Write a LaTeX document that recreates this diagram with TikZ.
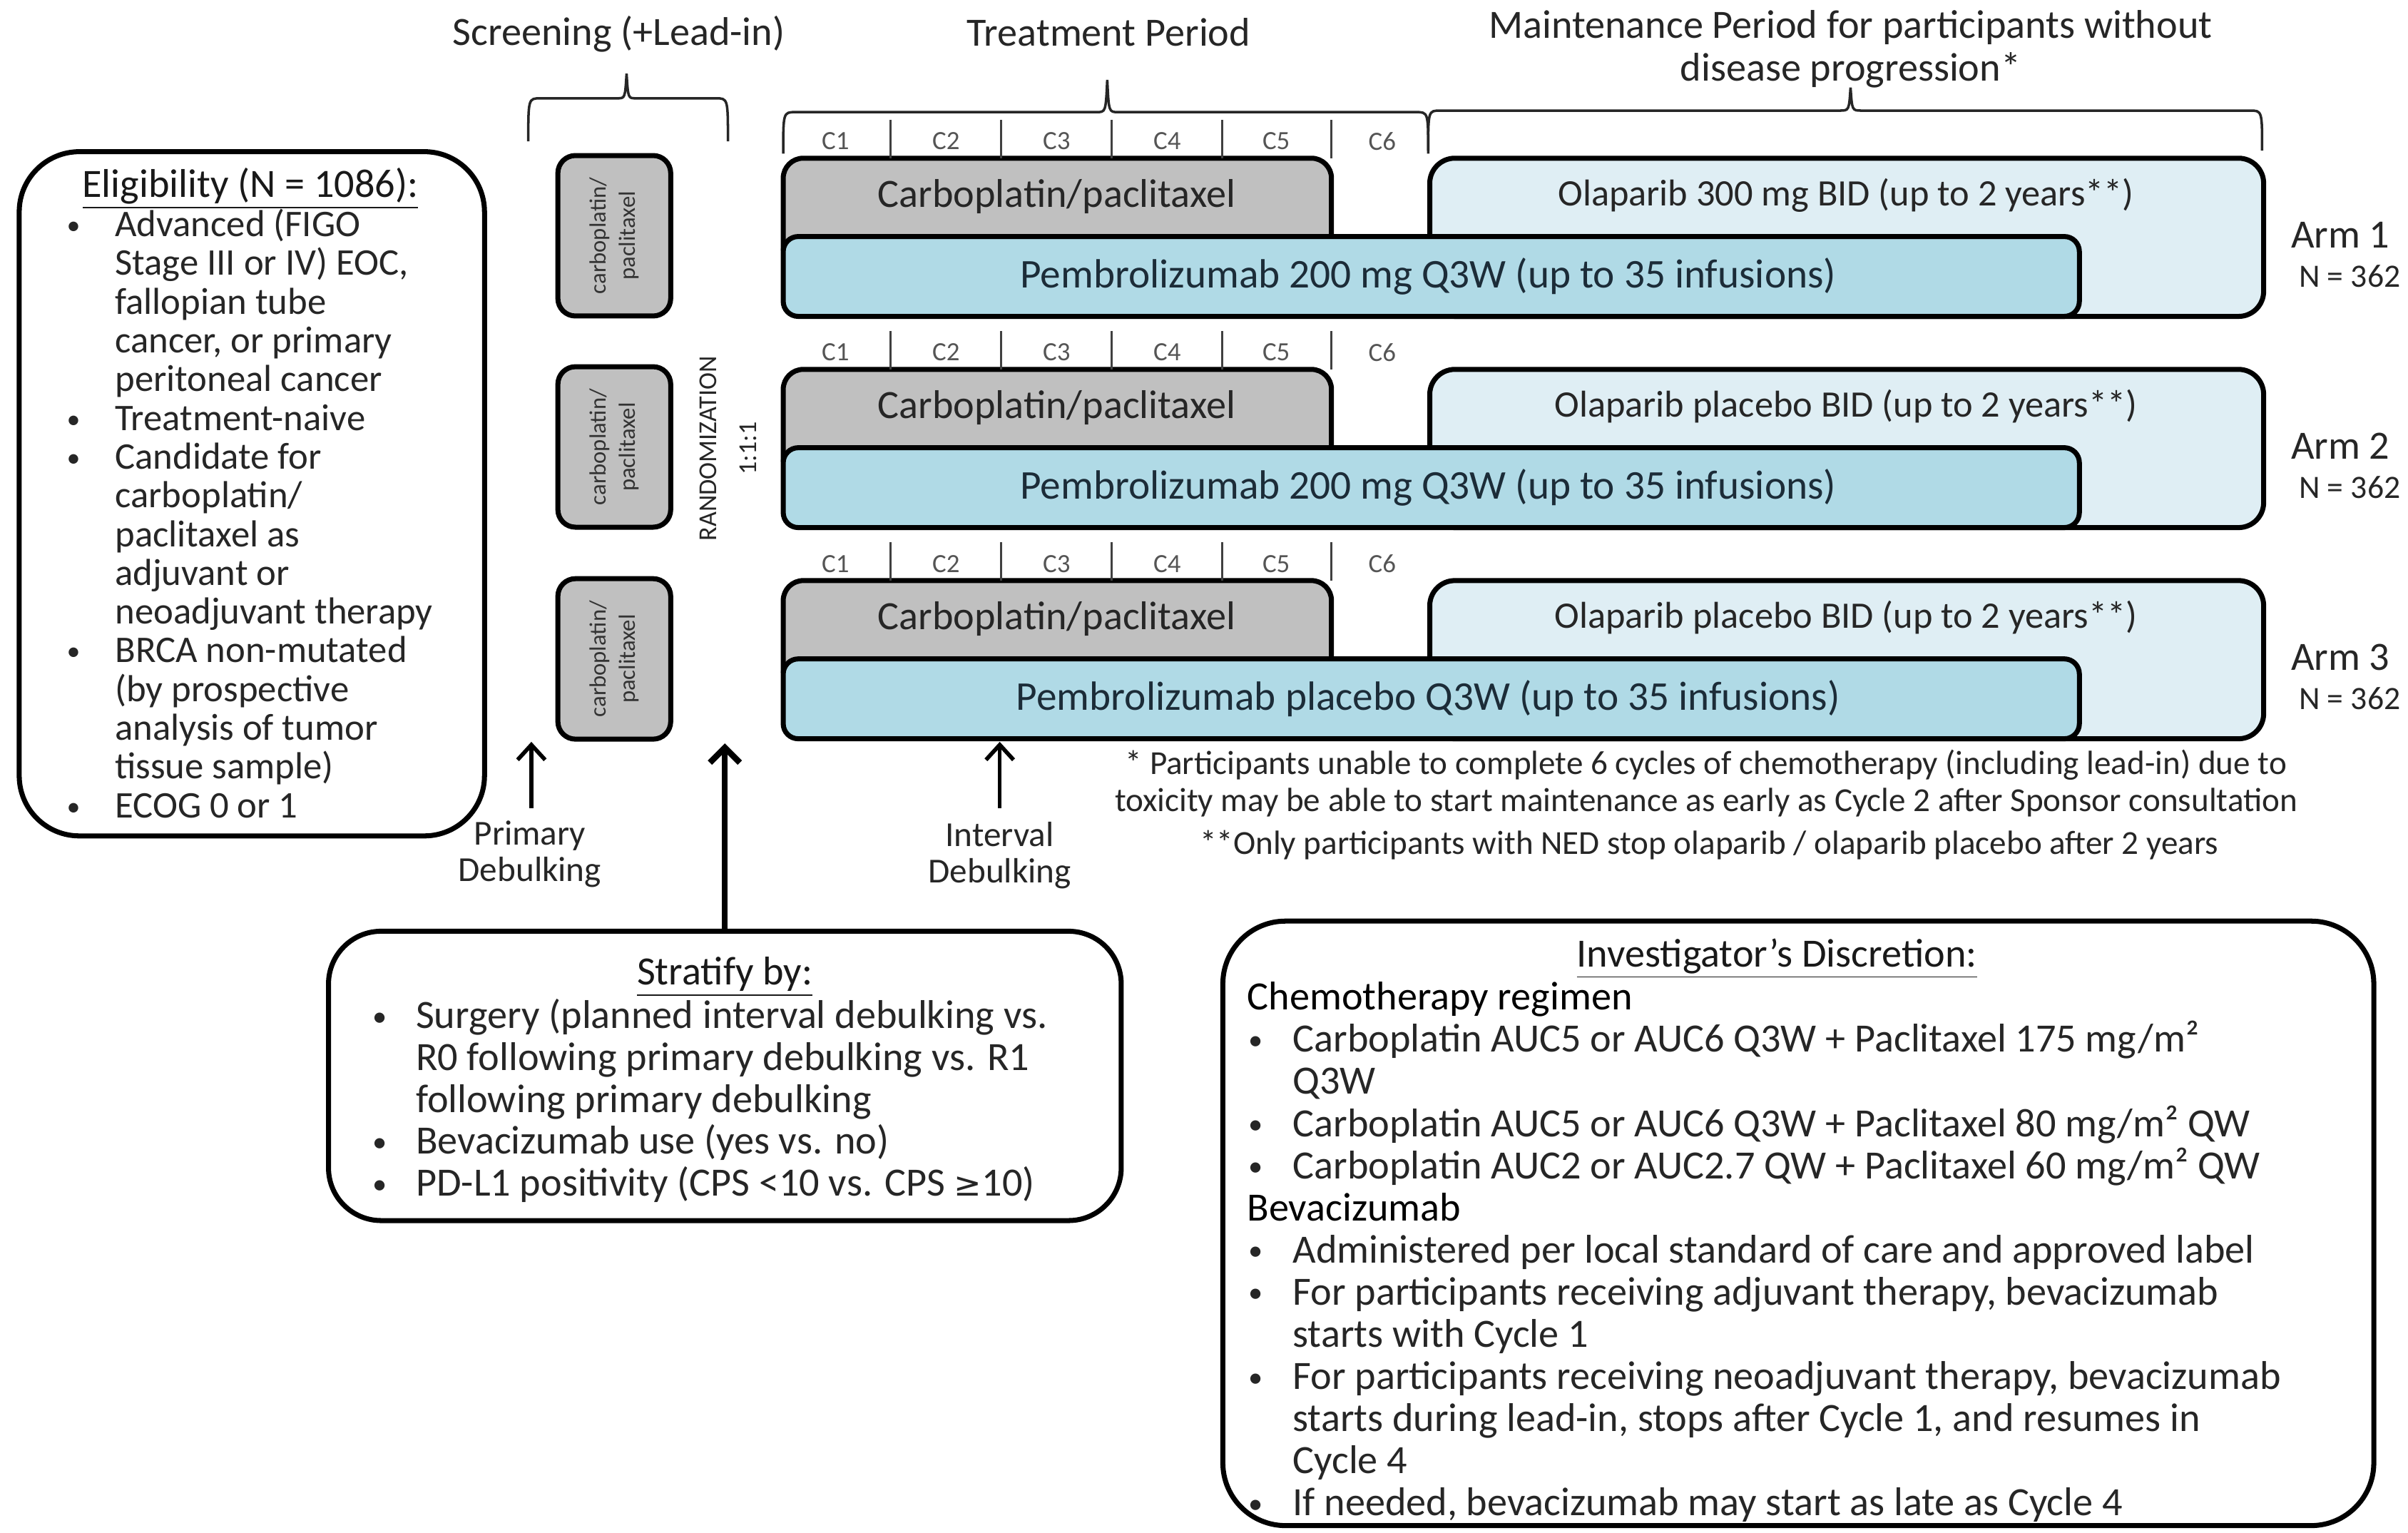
\documentclass[tikz,border=0pt]{standalone}
\usepackage{fontspec}
\setmainfont{Carlito}
\newfontfamily\symfnt{DejaVu Sans}[Scale=0.82]
\usetikzlibrary{arrows.meta}
\definecolor{chemogray}{RGB}{192,192,192}
\definecolor{pembroblue}{RGB}{176,218,230}
\definecolor{olapblue}{RGB}{223,238,244}
\definecolor{txt}{RGB}{38,38,38}
\definecolor{pembrotxt}{RGB}{28,44,56}
\definecolor{cyctxt}{RGB}{85,85,85}
\newcommand{\mybul}[1]{\makebox[#1][l]{\hspace{1.5pt}\raisebox{0.12ex}{\scalebox{0.72}{•}}}}
\newcommand{\myind}[1]{\hspace*{#1}}
\begin{document}
\begin{tikzpicture}[x=0.02153cm,y=-0.02153cm,
  every node/.style={inner sep=0pt, outer sep=0pt, text=txt},
  bigbox/.style={draw=black, line width=2pt, fill=white, rounded corners=24pt},
  leadbox/.style={draw=black, line width=2pt, fill=chemogray, rounded corners=7pt, rotate=90, minimum width=64pt, minimum height=45pt, align=center, font=\fontsize{9.3}{11.5}\selectfont, text=black!80},
  chemobar/.style={draw=black, line width=2pt, fill=chemogray, rounded corners=8pt},
  olapbar/.style={draw=black, line width=2pt, fill=olapblue, rounded corners=10pt},
  pembrobar/.style={draw=black, line width=2pt, fill=pembroblue, rounded corners=6pt},
  headtext/.style={font=\fontsize{16}{17.1}\selectfont, align=center, text=black!85},
  bartext/.style={font=\fontsize{16}{17}\selectfont},
  olaptext/.style={font=\fontsize{14.9}{16}\selectfont},
  pembrotext/.style={font=\fontsize{16.3}{17}\selectfont, text=pembrotxt},
  armtext/.style={font=\fontsize{16}{17}\selectfont},
  ntext/.style={font=\fontsize{13}{14}\selectfont},
  cyctext/.style={font=\fontsize{10.5}{12}\selectfont, text=cyctxt},
  titletext/.style={font=\fontsize{16}{17}\selectfont, anchor=base, text=black!90},
  eligtext/.style={font=\fontsize{15}{15.45}\selectfont, align=left, anchor=north west},
  strattext/.style={font=\fontsize{16}{16.7}\selectfont, align=left, anchor=north west},
  invtext/.style={font=\fontsize{16}{16.8}\selectfont, align=left, anchor=north west},
  fntext/.style={font=\fontsize{13.4}{14.65}\selectfont, align=center},
  debtext/.style={font=\fontsize{14}{14.6}\selectfont, align=center},
  randtext/.style={font=\fontsize{10.3}{16}\selectfont, align=center, rotate=90},
  bracepath/.style={draw=black!85, line width=1pt},
  sepline/.style={draw=black!75, line width=0.8pt},
  arr/.style={draw=black, line width=1.6pt, -{Straight Barb[length=6pt,width=11pt]}},
  bigarr/.style={draw=black, line width=2.4pt, -{Straight Barb[length=6pt,width=12pt]}},
]
\useasboundingbox[fill=white] (0,0) rectangle (1568,998);

% headers
\node[headtext] (scrhead) at (403,22) {Screening (+Lead-in)};
\node[headtext] (trthead) at (722,21) {Treatment Period};
\node[headtext] (mnthead) at (1205,32) {Maintenance Period for participants without\\disease progression*};

% braces
\path[bracepath] (344,92) .. controls (344,64) .. (352,64) -- (402,64) .. controls (407,64) .. (408,48) .. controls (409,64) .. (414,64) -- (466,64) .. controls (474,64) .. (474,92);
\path[bracepath] (510,100) .. controls (510,73) .. (518,73) -- (714,73) .. controls (720,73) .. (721,52) .. controls (722,73) .. (728,73) -- (922,73) .. controls (930,73) .. (930,100);
\path[bracepath] (930,98) .. controls (930,72) .. (938,72) -- (1198,72) .. controls (1204,72) .. (1205,57) .. controls (1206,72) .. (1212,72) -- (1465,72) .. controls (1473,72) .. (1473,98);

% eligibility
\node[bigbox, minimum width=185.6pt, minimum height=272.9pt] (elig) at (164,321.5) {};
\node[titletext] (eligtitle) at (163,128.4) {\underline{Eligibility (N = 1086):}};
\node[eligtext] (eligbody) at (41,133.2) {\rule{0pt}{12.75pt}\mybul{20.8pt}Advanced (FIGO\\
\myind{20.8pt}Stage III or IV) EOC,\\
\myind{20.8pt}fallopian tube\\
\myind{20.8pt}cancer, or primary\\
\myind{20.8pt}peritoneal cancer\\
\mybul{20.8pt}Treatment-naive\\
\mybul{20.8pt}Candidate for\\
\myind{20.8pt}carboplatin/\\
\myind{20.8pt}paclitaxel as\\
\myind{20.8pt}adjuvant or\\
\myind{20.8pt}neoadjuvant therapy\\
\mybul{20.8pt}BRCA non-mutated\\
\myind{20.8pt}(by prospective\\
\myind{20.8pt}analysis of tumor\\
\myind{20.8pt}tissue sample)\\
\mybul{20.8pt}ECOG 0 or 1};

% lead-in boxes
\node[leadbox] (lead1) at (400,153.5) {carboplatin/\\paclitaxel};
\node[leadbox] (lead2) at (400,291) {carboplatin/\\paclitaxel};
\node[leadbox] (lead3) at (400,429) {carboplatin/\\paclitaxel};

\node[randtext] (rand) at (474,292) {RANDOMIZATION\\1:1:1};

% arms
\foreach \k/\T/\olap/\pem in {
  1/103/{Olaparib 300 mg BID (up to 2 years**)}/{Pembrolizumab 200 mg Q3W (up to 35 infusions)},
  2/240.5/{Olaparib placebo BID (up to 2 years**)}/{Pembrolizumab 200 mg Q3W (up to 35 infusions)},
  3/378/{Olaparib placebo BID (up to 2 years**)}/{Pembrolizumab placebo Q3W (up to 35 infusions)}}{
  \path[olapbar] (931,\T+103) -- (931,\T) -- (1474,\T) -- (1474,\T+103) -- cycle;
  \path[chemobar] (510,\T+60) -- (510,\T) -- (867,\T) -- (867,\T+60);
  \path[pembrobar] (510,\T+51) rectangle (1354,\T+103);
  \node[bartext] (carbo\k) at (688,\T+25) {Carboplatin/paclitaxel};
  \node[olaptext] (olap\k) at (1202,\T+24) {\olap};
  \node[pembrotext] (pembro\k) at (930,\T+77) {\pem};
  \node[armtext] (arm\k) at (1524,\T+50) {Arm \k};
  \node[ntext] (n\k) at (1530,\T+77) {N = 362};
  \foreach \c/\x in {1/544,2/616,3/688,4/760,5/831,6/900}
    \node[cyctext] (cyc\k\c) at (\x,\T-11) {C\c};
  \foreach \x in {580,652,724,796,867}
    \draw[sepline] (\x,\T-25) -- (\x,\T);
}

% footnotes
\node[fntext] (fn1) at (1111,510) {* Participants unable to complete 6 cycles of chemotherapy (including lead-in) due to\\toxicity may be able to start maintenance as early as Cycle 2 after Sponsor consultation};
\node[fntext] (fn2) at (1113,550) {**Only participants with NED stop olaparib / olaparib placebo after 2 years};

% debulking labels and arrows
\node[debtext] (primlbl) at (345,556) {Primary\\Debulking};
\node[debtext] (intlbl) at (651,557) {Interval\\Debulking};
\coordinate (pdtail) at (346,526);
\coordinate (pdtip) at (346,483);
\coordinate (idtail) at (651,526);
\coordinate (idtip) at (651,483);
\coordinate (rtip) at (473,484);
\draw[arr] (pdtail) -- (pdtip);
\draw[arr] (idtail) -- (idtip);

% stratify
\node[bigbox, rounded corners=21pt, minimum width=316.2pt, minimum height=115.4pt] (strat) at (472,700.5) {};
\draw[bigarr] (strat.north) -- (strat.north |- rtip);
\node[titletext] (strattitle) at (472,641.4) {\underline{Stratify by:}};
\node[strattext] (stratbody) at (240,647.4) {\rule{0pt}{13.6pt}\mybul{18.9pt}Surgery (planned interval debulking vs.\\
\myind{18.9pt}R0 following primary debulking vs. R1\\
\myind{18.9pt}following primary debulking\\
\mybul{18.9pt}Bevacizumab use (yes vs. no)\\
\mybul{18.9pt}PD-L1 positivity (CPS <10 vs. CPS {\symfnt ≥}10)};

% investigator
\node[bigbox, rounded corners=25pt, minimum width=459.1pt, minimum height=241.1pt] (inv) at (1171,796.5) {};
\node[titletext] (invtitle) at (1157,629.4) {\underline{Investigator’s Discretion:}};
\node[invtext] (invbody) at (810.5,635.4) {\rule{0pt}{13.6pt}{\color{black}\hspace*{1pt}Chemotherapy regimen}\\
\mybul{19.2pt}Carboplatin AUC5 or AUC6 Q3W + Paclitaxel 175 mg/m²\\
\myind{19.2pt}Q3W\\
\mybul{19.2pt}Carboplatin AUC5 or AUC6 Q3W + Paclitaxel 80 mg/m² QW\\
\mybul{19.2pt}Carboplatin AUC2 or AUC2.7 QW + Paclitaxel 60 mg/m² QW\\
{\color{black}\hspace*{1pt}Bevacizumab}\\
\mybul{19.2pt}Administered per local standard of care and approved label\\
\mybul{19.2pt}For participants receiving adjuvant therapy, bevacizumab\\
\myind{19.2pt}starts with Cycle 1\\
\mybul{19.2pt}For participants receiving neoadjuvant therapy, bevacizumab\\
\myind{19.2pt}starts during lead-in, stops after Cycle 1, and resumes in\\
\myind{19.2pt}Cycle 4\\
\mybul{19.2pt}If needed, bevacizumab may start as late as Cycle 4};
\end{tikzpicture}
\end{document}
